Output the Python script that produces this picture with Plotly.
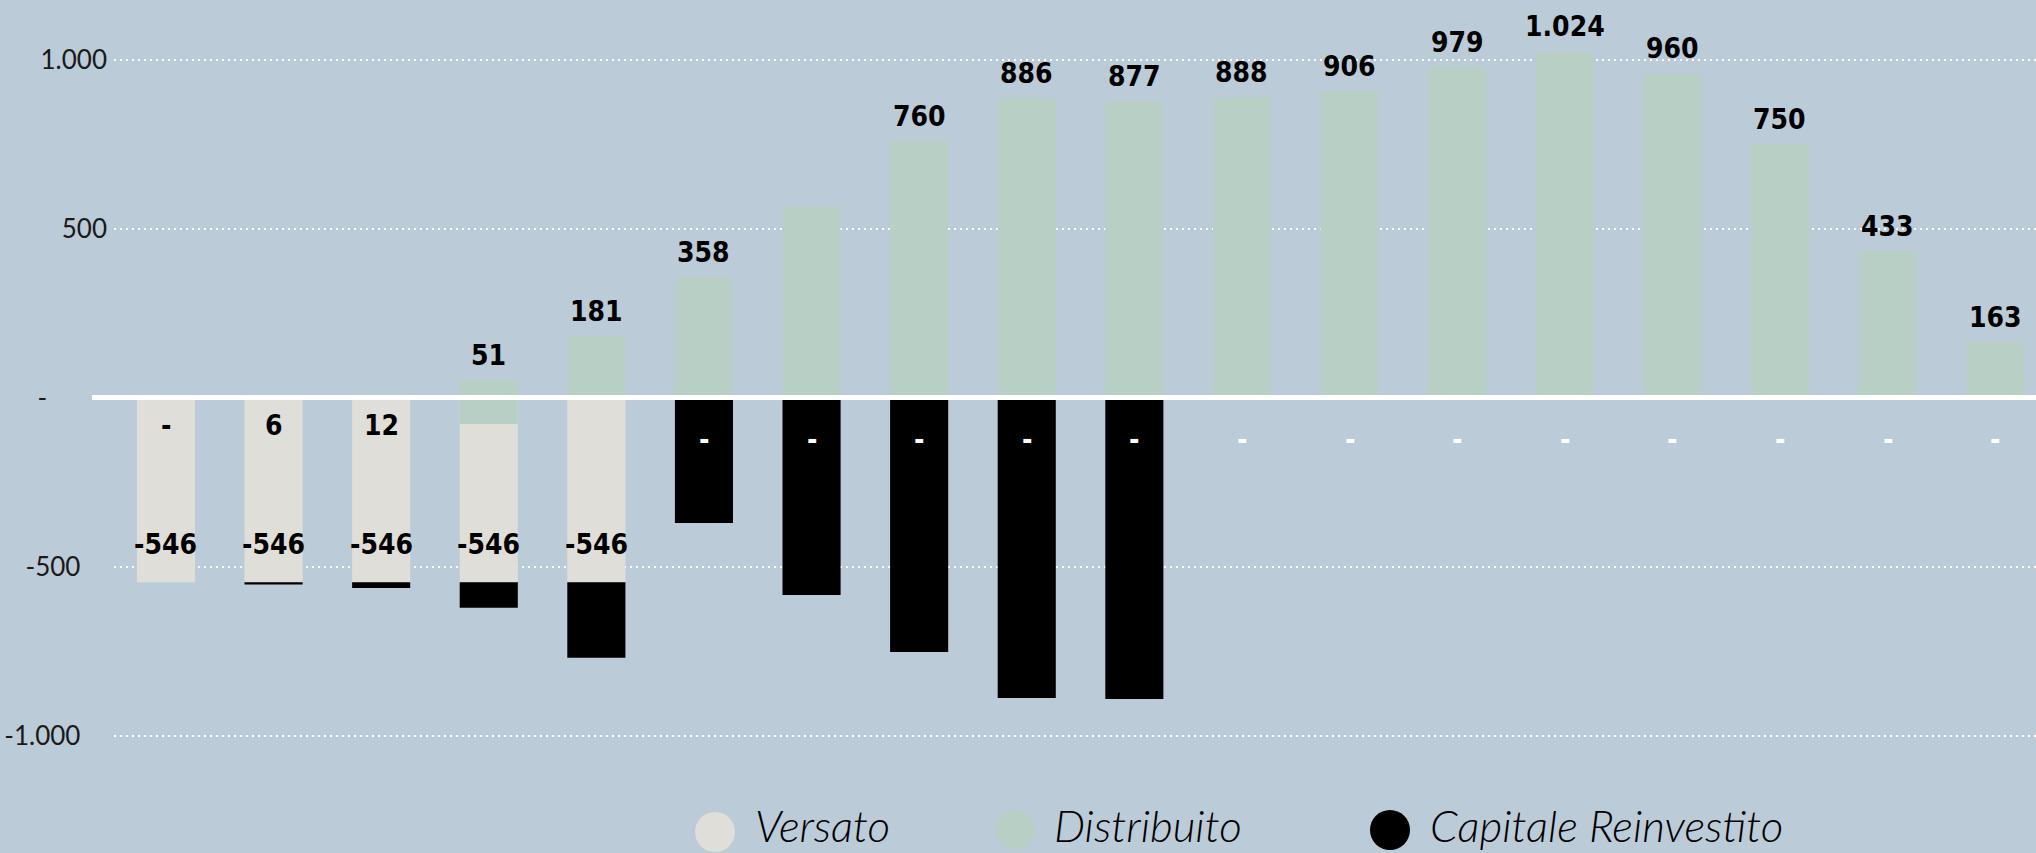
import plotly.graph_objects as go

# ---------------- data ----------------
anni = [f"Anno {i}" for i in range(1, 19)]
versato = [-546, -546, -546, -546, -546, 0, 0, 0, 0, 0, 0, 0, 0, 0, 0, 0, 0, 0]
distribuito = [0, 6, 12, 51, 181, 358, 565, 760, 886, 877, 888, 906, 979, 1024, 960, 750, 433, 163]
distribuito_sotto = [0, 0, 0, -78, 0, 0, 0, 0, 0, 0, 0, 0, 0, 0, 0, 0, 0, 0]
reinvestito = [0, -7, -17, -76, -224, -371, -584, -753, -889, -892, 0, 0, 0, 0, 0, 0, 0, 0]
etichette_distribuito = ["-", "6", "12", "51", "181", "358", "", "760", "886", "877",
                         "888", "906", "979", "1.024", "960", "750", "433", "163"]
tick_vals = [-1000, -500, 0, 500, 1000]
tick_text = ["-1.000", "-500", "-", "500", "1.000"]
serie = ["Versato", "Distribuito", "Capitale Reinvestito"]

# ---------------- style ----------------
BG = "#BCCBD8"
C_VERS = "#E0DED9"
C_DIST = "#B8CFC6"
C_REIN = "#000000"
LABEL_FONT = "Liberation Sans Narrow, Arial Narrow, DejaVu Sans Condensed, sans-serif"
TICK_FONT = "Lato, Open Sans, sans-serif"
NB = "\u00a0"


def fmt(v):
    if v == 0:
        return "-"
    return f"{v:,}".replace(",", ".")


fig = go.Figure()
fig.add_trace(go.Bar(x=anni, y=distribuito, base=[0] * len(anni), name="Distribuito",
                     marker=dict(color=C_DIST, line=dict(width=0)), hoverinfo="x+y"))
fig.add_trace(go.Bar(x=anni, y=versato, base=[0] * len(anni), name="Versato",
                     marker=dict(color=C_VERS, line=dict(width=0)), hoverinfo="x+y"))
fig.add_trace(go.Bar(x=anni, y=distribuito_sotto, base=[0] * len(anni), name="Distribuito",
                     marker=dict(color=C_DIST, line=dict(width=0)), hoverinfo="x+y"))
fig.add_trace(go.Bar(x=anni, y=reinvestito, base=versato, name="Capitale Reinvestito",
                     marker=dict(color=C_REIN, line=dict(width=0)), hoverinfo="x+y"))

annotations = []
# Distribuito labels
for i, (a, v, t) in enumerate(zip(anni, distribuito, etichette_distribuito)):
    if not t:
        continue
    if v < 20:
        annotations.append(dict(x=a, y=0, text=t, yanchor="middle", yshift=-28,
                                font=dict(family=LABEL_FONT, size=28, color="black", weight="bold")))
    else:
        annotations.append(dict(x=a, y=v, text=t, yanchor="bottom", yshift=6,
                                font=dict(family=LABEL_FONT, size=28, color="black", weight="bold")))
# Versato labels
for a, v in zip(anni, versato):
    if v != 0:
        annotations.append(dict(x=a, y=v, text=fmt(v), yanchor="bottom", yshift=19,
                                font=dict(family=LABEL_FONT, size=28, color="black", weight="bold")))
    else:
        annotations.append(dict(x=a, y=0, text="-", yanchor="middle", yshift=-42,
                                font=dict(family=LABEL_FONT, size=28, color="white", weight="bold")))
for an in annotations:
    an.update(xref="x", yref="y", showarrow=False)

# manual legend (large circles)
PLOT_L, PLOT_W, PLOT_H = 114, 2036 - 114, 853 - 66
legend_items = [(serie[0], C_VERS, 715, 832, 753),
                (serie[1], C_DIST, 1015, 830, 1052),
                (serie[2], C_REIN, 1390, 830, 1428)]
shapes = [dict(type="line", xref="paper", yref="y", x0=(92 - PLOT_L) / PLOT_W, x1=1, y0=0, y1=0,
               line=dict(color="white", width=5), layer="above")]
for name, col, cx, cy, tx in legend_items:
    shapes.append(dict(type="circle", xref="paper", yref="paper",
                       xsizemode="pixel", ysizemode="pixel",
                       xanchor=(cx - PLOT_L) / PLOT_W, yanchor=(PLOT_H - cy) / PLOT_H,
                       x0=-20, x1=20, y0=-20, y1=20,
                       fillcolor=col, line=dict(width=0), layer="above"))
    annotations.append(dict(xref="paper", yref="paper", x=(tx - PLOT_L) / PLOT_W,
                            y=(PLOT_H - 825) / PLOT_H, xanchor="left", yanchor="middle",
                            text=f"<i>{name}</i>", showarrow=False,
                            font=dict(family=TICK_FONT, size=44, color="black", weight=300)))

pad_neg = NB * 4
pad_zero = NB * 9
tick_text_padded = [t + (pad_zero if t == "-" else (pad_neg if t.startswith("-") else "")) for t in tick_text]

fig.update_layout(
    width=2036, height=853,
    margin=dict(l=PLOT_L, r=0, t=0, b=66, pad=0),
    paper_bgcolor=BG, plot_bgcolor=BG,
    barmode="overlay", bargap=0.46,
    showlegend=False,
    shapes=shapes, annotations=annotations,
    xaxis=dict(type="category", range=[-0.483, 17.38], showticklabels=False,
               showgrid=False, zeroline=False, showline=False, ticks=""),
    yaxis=dict(range=[-1152, 1176], tickvals=tick_vals, ticktext=tick_text_padded,
               showgrid=True, gridcolor="white", gridwidth=2, griddash="2px,4px",
               zeroline=False, showline=False, ticks="", ticklabelstandoff=6,
               tickfont=dict(family=TICK_FONT, size=26, color="#1a1a1a")),
)

fig.write_html("out.html", config={"displayModeBar": False},
               post_script="document.body.style.margin='0';document.body.style.overflow='hidden';")
